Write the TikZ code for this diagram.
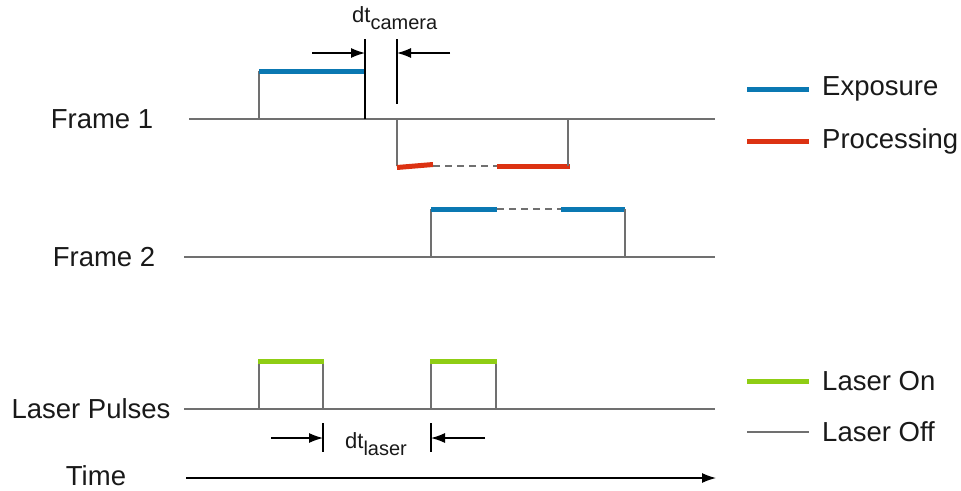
\documentclass[tikz,border=0pt]{standalone}
\usepackage{fontspec}
\setmainfont{Liberation Sans}
\usetikzlibrary{arrows.meta}
\definecolor{expblue}{HTML}{0A78B2}
\definecolor{procred}{HTML}{DC3212}
\definecolor{lasergreen}{HTML}{8FCD14}
\definecolor{sig}{HTML}{707070}
\begin{document}
\begin{tikzpicture}[x=1pt,y=-1pt,
  sigline/.style={draw=sig,line width=2pt},
  expo/.style={draw=expblue,line width=5pt},
  proc/.style={draw=procred,line width=5pt},
  laseron/.style={draw=lasergreen,line width=5pt},
  gap/.style={draw=sig,line width=2pt,dash pattern=on 7pt off 5pt},
  dim/.style={draw=black,line width=1.2pt},
  dimarrow/.style={draw=black,line width=1.2pt,-{Latex[length=14pt,width=10pt]}},
  lbl/.style={font=\fontsize{27.5}{32}\selectfont,text=black!90,inner sep=0pt},
  sub/.style={font=\fontsize{22}{26}\selectfont,text=black!90,inner sep=0pt}
]
\useasboundingbox (0,0) rectangle (961,490);
% labels
\node[lbl] (f1) at (102,119) {Frame 1};
\node[lbl] (f2) at (104,257) {Frame 2};
\node[lbl] (lp) at (91,409) {Laser Pulses};
\node[lbl] (tm) at (96,476) {Time};
% Frame 1
\coordinate (f1a) at (189,119);
\coordinate (f1b) at (715,119);
\draw[sigline] (f1a) -- (f1b);
\draw[sigline] (259,119) -- (259,71);
\draw[expo] (259,71) -- (365,71);
\draw[dim] (365,119) -- (365,39);
\draw[dim] (397,39) -- (397,104);
\draw[sigline] (397,119) -- (397,166);
\draw[proc] (397,167.5) -- (433,164.5);
\draw[gap] (433,166) -- (497,166);
\draw[proc] (497,166) -- (570,166);
\draw[sigline] (568,166) -- (568,119);
% dt camera
\coordinate (c1) at (312,53);
\coordinate (c1e) at (365,53);
\coordinate (c2) at (450,53);
\coordinate (c2e) at (397,53);
\draw[dimarrow] (c1) -- (c1e);
\draw[dimarrow] (c2) -- (c2e);
\node[sub,anchor=base west] (dtc) at (352,22) {dt\raisebox{-7pt}{\fontsize{20}{24}\selectfont camera}};
% Frame 2
\draw[sigline] (184,257) -- (715,257);
\draw[sigline] (431,257) -- (431,209);
\draw[expo] (431,209) -- (497,209);
\draw[gap] (497,209) -- (561,209);
\draw[expo] (561,209) -- (625,209);
\draw[sigline] (625,209) -- (625,257);
% Laser pulses
\draw[sigline] (184,409) -- (715,409);
\draw[sigline] (259,409) -- (259,361) (323,361) -- (323,409);
\draw[laseron] (258,361) -- (324,361);
\draw[sigline] (431,409) -- (431,361) (496,361) -- (496,409);
\draw[laseron] (430,361) -- (497,361);
% dt laser
\draw[dim] (323,423) -- (323,452);
\draw[dim] (431,423) -- (431,452);
\coordinate (l1) at (271,438);
\coordinate (l1e) at (323,438);
\coordinate (l2) at (485,438);
\coordinate (l2e) at (431,438);
\draw[dimarrow] (l1) -- (l1e);
\draw[dimarrow] (l2) -- (l2e);
\node[sub,anchor=base west] (dtl) at (345,448) {dt\raisebox{-7pt}{\fontsize{20}{24}\selectfont laser}};
% Time
\coordinate (t0) at (186,478);
\coordinate (t1) at (716,478);
\draw[dimarrow] (t0) -- (t1);
% legend
\draw[expo] (747,89) -- (809,89);
\node[lbl,anchor=west] (le) at (822,89) {Exposure};
\draw[proc] (747,141) -- (809,141);
\node[lbl,anchor=west] (lpr) at (822,141) {Processing};
\draw[laseron] (747,381) -- (809,381);
\node[lbl,anchor=west] (lon) at (822,381) {Laser On};
\draw[sig,line width=1.5pt] (747,432) -- (809,432);
\node[lbl,anchor=west] (loff) at (822,432) {Laser Off};
\end{tikzpicture}
\end{document}
